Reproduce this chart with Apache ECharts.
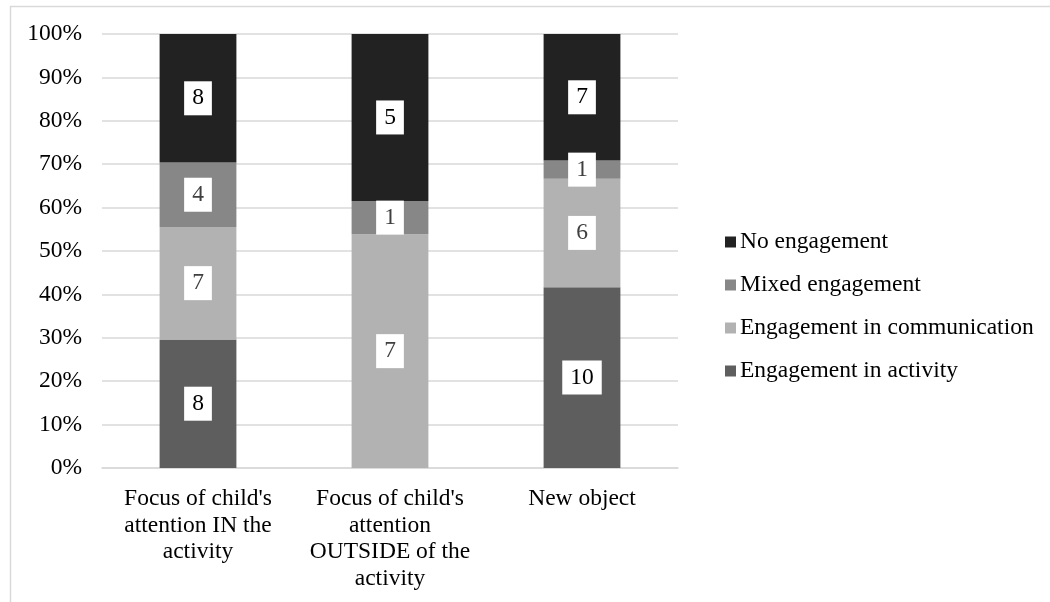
<!DOCTYPE html>
<html>
<head>
<meta charset="utf-8">
<script src="https://cdn.jsdelivr.net/npm/echarts@6/dist/echarts.min.js"></script>
<style>html,body{margin:0;padding:0;background:#fff;}#c{width:1050px;height:602px;}</style>
</head>
<body>
<div id="c"></div>
<script>
const categories = ["Focus of child's\nattention IN the\nactivity", "Focus of child's\nattention\nOUTSIDE of the\nactivity", "New object"];
const seriesNames = ["Engagement in activity", "Engagement in communication", "Mixed engagement", "No engagement"];
const activity = [8, 0, 10];
const communication = [7, 7, 6];
const mixed = [4, 1, 1];
const noEngagement = [8, 5, 7];
const yTicks = ["0%", "10%", "20%", "30%", "40%", "50%", "60%", "70%", "80%", "90%", "100%"];

const counts = [activity, communication, mixed, noEngagement];
const colors = ["#5e5e5e", "#b2b2b2", "#878787", "#222222"];
const labelColors = ["#000000", "#404040", "#404040", "#000000"];
const totals = categories.map((_, i) => counts.reduce((s, arr) => s + arr[i], 0));
const font = "'Liberation Serif', 'Times New Roman', serif";
const fs = 23.5;

const chart = echarts.init(document.getElementById('c'));
chart.setOption({
  animation: false,
  backgroundColor: '#ffffff',
  graphic: [{
    type: 'rect', left: 8, top: 4, z: -1,
    shape: { width: 1100, height: 700 },
    style: { fill: 'none', stroke: '#d9d9d9', lineWidth: 1.5 }
  }],
  grid: { left: 102, right: 372, top: 34, bottom: 134 },
  legend: {
    orient: 'vertical', left: 720, top: 225,
    data: seriesNames.slice().reverse(),
    itemWidth: 11, itemHeight: 11, itemGap: 19,
    icon: 'rect',
    textStyle: { fontFamily: font, fontSize: fs, color: '#000', lineHeight: 22, padding: [0, 0, 0, -1] }
  },
  xAxis: {
    type: 'category', data: categories,
    axisLine: { show: true, lineStyle: { color: '#d9d9d9', width: 1.5 } },
    axisTick: { show: false },
    axisLabel: { interval: 0, fontFamily: font, fontSize: fs, color: '#000', lineHeight: 26.5, margin: 18 }
  },
  yAxis: {
    type: 'value', min: 0, max: 100, interval: 10,
    axisLine: { show: false }, axisTick: { show: false },
    splitLine: { lineStyle: { color: '#d9d9d9', width: 1.5 } },
    axisLabel: { fontFamily: font, fontSize: fs, color: '#000', margin: 20,
      formatter: (v) => yTicks[Math.round(v / 10)] }
  },
  series: seriesNames.map((name, si) => ({
    name, type: 'bar', stack: 'total', barWidth: '40%',
    itemStyle: { color: colors[si] },
    data: counts[si].map((c, i) => ({
      value: c / totals[i] * 100,
      label: { show: c !== 0 }
    })),
    label: {
      show: true, position: 'inside',
      formatter: (p) => String(counts[si][p.dataIndex]),
      backgroundColor: '#ffffff', padding: [6, 8],
      fontFamily: font, fontSize: fs, lineHeight: 22, color: labelColors[si]
    }
  }))
});
</script>
</body>
</html>
